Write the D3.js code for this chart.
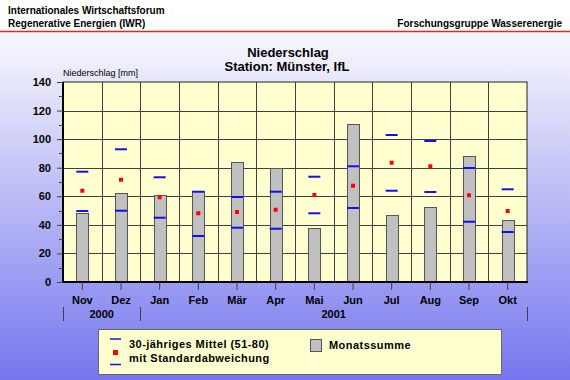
<!DOCTYPE html>
<html><head><meta charset="utf-8">
<script src="https://cdn.jsdelivr.net/npm/d3@7"></script>
<style>body{margin:0;padding:0;overflow:hidden}svg{display:block}</style>
</head><body>
<svg id="c" width="570" height="380"></svg>
<script>
const months = ["Nov","Dez","Jan","Feb","Mär","Apr","Mai","Jun","Jul","Aug","Sep","Okt"];
const years = [{label:"2000", from:0, to:2},{label:"2001", from:2, to:12}];
const monatssumme = [48.1,62.1,60.7,63.9,84.2,79.8,37.6,110.4,46.7,52.5,88.4,43.2];
const mittel = [63.9,71.6,59.3,48.1,49.0,50.6,60.9,67.4,83.5,81.0,60.7,49.7];
const mittelPlusStd = [77.2,92.9,73.3,63.2,59.5,63.2,73.7,81.0,102.9,98.7,79.8,64.9];
const mittelMinusStd = [49.7,49.9,45.0,32.2,38.0,37.3,48.1,51.8,63.9,63.0,42.2,35.0];
const yTicks = [0,20,40,60,80,100,120,140];

const svg = d3.select("#c");
const W = 570, H = 380;
const font = "'Liberation Sans', Arial, sans-serif";

const defs = svg.append("defs");
const g1 = defs.append("linearGradient").attr("id","bg").attr("x1",0).attr("y1",0).attr("x2",0).attr("y2",1);
g1.append("stop").attr("offset","0%").attr("stop-color","#ffffff");
g1.append("stop").attr("offset","15%").attr("stop-color","#f0f0fc");
g1.append("stop").attr("offset","100%").attr("stop-color","#7676ee");

svg.append("rect").attr("width",W).attr("height",H).attr("fill","url(#bg)");
svg.append("rect").attr("width",W).attr("height",31).attr("fill","#ffffff");
svg.append("line").attr("x1",0).attr("x2",W).attr("y1",31.5).attr("y2",31.5).attr("stroke","#ee2020").attr("stroke-width",1.5);

const hdr = svg.append("g").attr("font-family",font).attr("font-size",10).attr("font-weight","bold").attr("fill","#000");
hdr.append("text").attr("x",8).attr("y",14).text("Internationales Wirtschaftsforum");
hdr.append("text").attr("x",8).attr("y",27).text("Regenerative Energien (IWR)");
hdr.append("text").attr("x",562).attr("y",27).attr("text-anchor","end").text("Forschungsgruppe Wasserenergie");

const tg = svg.append("g").attr("font-family",font).attr("font-size",13).attr("font-weight","bold").attr("text-anchor","middle");
tg.append("text").attr("x",288).attr("y",57).text("Niederschlag");
tg.append("text").attr("x",287).attr("y",71).text("Station: Münster, IfL");

const L = 63, R = 527, T = 82, B = 282;
const x = d3.scaleBand().domain(months).range([L,R]);
const y = d3.scaleLinear().domain([0,140]).range([B,T]);

svg.append("rect").attr("x",L).attr("y",T).attr("width",R-L).attr("height",B-T).attr("fill","#ffffd0");

svg.append("text").attr("x",L).attr("y",76).attr("font-family",font).attr("font-size",9).text("Niederschlag [mm]");

// grid
const grid = svg.append("g").attr("stroke","#404040").attr("stroke-width",1);
yTicks.slice(1,-1).forEach(v=>{
  grid.append("line").attr("x1",L).attr("x2",R).attr("y1",Math.round(y(v))+0.5).attr("y2",Math.round(y(v))+0.5);
});
months.slice(1).forEach(m=>{
  const xx = Math.round(x(m))+0.5;
  grid.append("line").attr("x1",xx).attr("x2",xx).attr("y1",T).attr("y2",B);
});

// bars
const bw = 12;
svg.append("g").selectAll("rect").data(monatssumme).join("rect")
  .attr("x",(d,i)=>Math.round(x(months[i])+x.bandwidth()/2-bw/2)+0.5)
  .attr("y",d=>Math.round(y(d))+0.5)
  .attr("width",bw)
  .attr("height",d=>B-Math.round(y(d)))
  .attr("fill","#c0c0c0").attr("stroke","#555").attr("stroke-width",1);

// std lines
const sl = svg.append("g").attr("stroke","#1010f0").attr("stroke-width",2);
[mittelPlusStd, mittelMinusStd].forEach(arr=>{
  sl.selectAll(null).data(arr).join("line")
    .attr("x1",(d,i)=>x(months[i])+x.bandwidth()/2-6)
    .attr("x2",(d,i)=>x(months[i])+x.bandwidth()/2+6)
    .attr("y1",d=>y(d)).attr("y2",d=>y(d));
});
svg.append("g").selectAll("rect").data(mittel).join("rect")
  .attr("x",(d,i)=>x(months[i])+x.bandwidth()/2-2)
  .attr("y",d=>y(d)-2).attr("width",4).attr("height",4).attr("fill","#ff0000");

// frame
svg.append("rect").attr("x",L).attr("y",T).attr("width",R-L).attr("height",B-T).attr("fill","none").attr("stroke","#202020").attr("stroke-width",1);
svg.append("line").attr("x1",L).attr("x2",L).attr("y1",T).attr("y2",B+1).attr("stroke","#000").attr("stroke-width",2);
svg.append("line").attr("x1",L).attr("x2",R+1).attr("y1",B).attr("y2",B).attr("stroke","#000").attr("stroke-width",2);

// y axis
const yAxis = d3.axisLeft(y).tickValues(yTicks).tickSize(6).tickPadding(6).tickFormat(d3.format("d"));
const ya = svg.append("g").attr("transform",`translate(${L},0)`).call(yAxis);
ya.select(".domain").remove();
ya.selectAll("text").attr("font-family",font).attr("font-size",11).attr("font-weight","bold").attr("fill","#000");
ya.selectAll("line").attr("stroke","#404040");
const minor = d3.range(10,140,20);
svg.append("g").selectAll("line").data(minor).join("line")
  .attr("x1",L-4).attr("x2",L).attr("y1",d=>Math.round(y(d))+0.5).attr("y2",d=>Math.round(y(d))+0.5).attr("stroke","#404040");

// x axis
const xAxis = d3.axisBottom(x).tickSize(8).tickPadding(6);
const xa = svg.append("g").attr("transform",`translate(0,${B})`).call(xAxis);
xa.select(".domain").remove();
xa.selectAll("line").attr("stroke","#404040");
xa.selectAll("text").attr("font-family",font).attr("font-size",11).attr("font-weight","bold").attr("fill","#000");

// years
const yg = svg.append("g");
const bounds = [L, x(months[2]), R];
bounds.forEach(b=>{
  yg.append("line").attr("x1",Math.round(b)+0.5).attr("x2",Math.round(b)+0.5).attr("y1",307).attr("y2",321).attr("stroke","#404040");
});
years.forEach(yr=>{
  const a = x(months[yr.from]), e = yr.to>=months.length ? R : x(months[yr.to]);
  yg.append("text").attr("x",(a+e)/2).attr("y",318).attr("text-anchor","middle")
    .attr("font-family",font).attr("font-size",11).attr("font-weight","bold").text(yr.label);
});

// legend
const lg = svg.append("g");
lg.append("rect").attr("x",98.5).attr("y",329.5).attr("width",403).attr("height",45).attr("fill","#ffffd0").attr("stroke","#666").attr("stroke-width",1);
lg.append("line").attr("x1",110).attr("x2",121).attr("y1",339).attr("y2",339).attr("stroke","#1010f0").attr("stroke-width",1.5);
lg.append("rect").attr("x",113).attr("y",350).attr("width",5).attr("height",5).attr("fill","#ff0000");
lg.append("line").attr("x1",110).attr("x2",121).attr("y1",364.5).attr("y2",364.5).attr("stroke","#1010f0").attr("stroke-width",1.5);
const lt = lg.append("g").attr("font-family",font).attr("font-size",11).attr("font-weight","bold").attr("letter-spacing",0.45);
lt.append("text").attr("x",129).attr("y",348).text("30-jähriges Mittel (51-80)");
lt.append("text").attr("x",129).attr("y",362).text("mit Standardabweichung");
lg.append("rect").attr("x",310.5).attr("y",339.5).attr("width",11).attr("height",12).attr("fill","#c0c0c0").attr("stroke","#555");
lt.append("text").attr("x",329).attr("y",349).text("Monatssumme");
</script>
</body></html>
